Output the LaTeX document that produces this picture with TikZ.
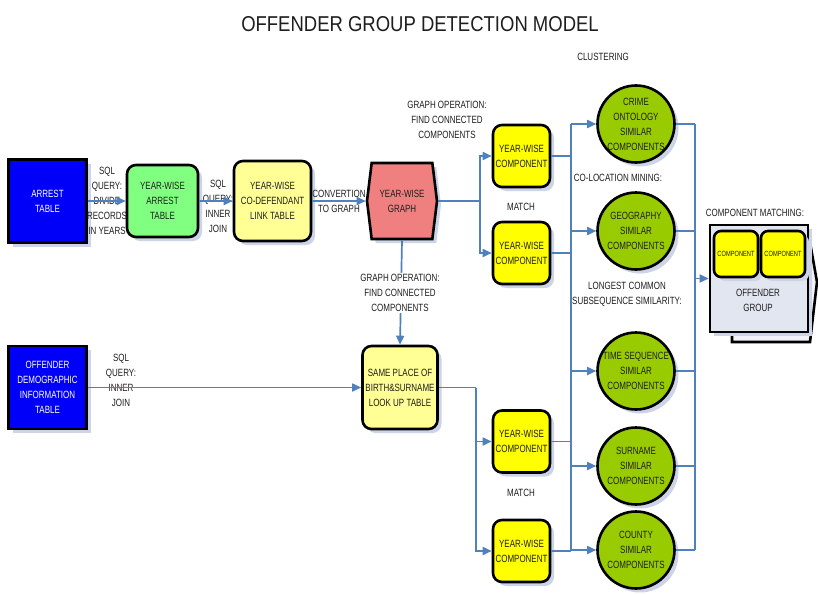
\documentclass[tikz,border=0pt]{standalone}
\usepackage{fontspec}
\setmainfont{Liberation Sans}[FakeStretch=0.76]
\newfontfamily\ttlfont{Liberation Sans}[FakeStretch=0.86]
\usetikzlibrary{shapes.symbols,shadows,arrows.meta}
\definecolor{txtc}{RGB}{30,30,30}
\definecolor{bluebox}{RGB}{0,0,250}
\definecolor{greenbox}{RGB}{128,255,128}
\definecolor{lyellow}{RGB}{255,255,150}
\definecolor{yellowc}{RGB}{255,255,0}
\definecolor{salmonc}{RGB}{240,128,128}
\definecolor{circg}{RGB}{153,204,0}
\definecolor{grpc}{RGB}{226,230,240}
\definecolor{grpback}{RGB}{240,242,248}
\definecolor{shadowc}{RGB}{205,212,232}
\definecolor{arrowc}{RGB}{79,129,189}
\newcommand\dfont{\fontsize{10.5}{15}\selectfont}
\newcommand\sfont{\fontsize{7.5}{9}\selectfont}
\tikzset{
  shd/.style={drop shadow={shadow xshift=4pt, shadow yshift=-4pt, fill=shadowc, opacity=1}},
  box/.style={draw=black, line width=2.6pt, align=center, inner sep=1pt, font=\dfont, text=txtc, shd},
  rbox/.style={box, rounded corners=9pt},
  bluetab/.style={box, fill=bluebox, text=white, minimum width=78pt, minimum height=83pt},
  comp/.style={rbox, fill=yellowc, minimum width=57pt, minimum height=62pt},
  circ/.style={box, circle, fill=circg, minimum size=77pt, inner sep=-8pt},
  lbl/.style={align=center, font=\dfont, text=txtc, inner sep=1pt},
  conn/.style={draw=arrowc, line width=1.7pt},
  arr/.style={conn, -{Triangle[length=9pt,width=8pt]}}
}
\begin{document}
\begin{tikzpicture}[x=1pt,y=-1pt]
\fill[white] (0,0) rectangle (818,594);
\useasboundingbox (0,0) rectangle (818,594);

\node[font=\ttlfont\fontsize{21.5}{24}\selectfont, text=txtc] (title) at (420,24) {OFFENDER GROUP DETECTION MODEL};

% top row
\node[bluetab] (arrest) at (47.5,201) {ARREST\\TABLE};
\node[rbox, fill=greenbox, minimum width=71pt, minimum height=72pt] (yarrest) at (162.5,201) {YEAR-WISE\\ARREST\\TABLE};
\node[rbox, fill=lyellow, minimum width=77pt, minimum height=80pt] (codef) at (272.5,201) {YEAR-WISE\\CO-DEFENDANT\\LINK TABLE};
\node[box, fill=salmonc, signal, signal to=west and east, signal pointer angle=166, minimum width=70pt, minimum height=76pt] (graph) at (402,201) {YEAR-WISE\\GRAPH};

\node[lbl] (q1) at (107,201) {SQL\\QUERY:\\DIVIDE\\RECORDS\\IN YEARS};
\node[lbl] (q2) at (218,206) {SQL\\QUERY:\\INNER\\JOIN};
\node[lbl] (conv) at (339,201) {CONVERTION\\TO GRAPH};
\node[lbl] (gop1) at (447,120) {GRAPH OPERATION:\\FIND CONNECTED\\COMPONENTS};

% bottom row
\node[bluetab] (demog) at (47.5,387.5) {OFFENDER\\DEMOGRAPHIC\\INFORMATION\\TABLE};
\node[rbox, fill=lyellow, minimum width=75pt, minimum height=83pt] (lookup) at (400,387.5) {SAME PLACE OF\\BIRTH\&SURNAME\\LOOK UP TABLE};
\node[lbl] (q3) at (121,380) {SQL\\QUERY:\\INNER\\JOIN};

% components
\node[comp] (comp1) at (521.5,156) {YEAR-WISE\\COMPONENT};
\node[comp] (comp2) at (521.5,253) {YEAR-WISE\\COMPONENT};
\node[comp] (comp3) at (521.5,441.5) {YEAR-WISE\\COMPONENT};
\node[comp] (comp4) at (521.5,551) {YEAR-WISE\\COMPONENT};
\node[lbl] (match1) at (521,207) {MATCH};
\node[lbl] (match2) at (521,493) {MATCH};

% circles
\node[circ] (crime) at (636,124) {CRIME\\ONTOLOGY\\SIMILAR\\COMPONENTS};
\node[circ] (geo) at (636,231) {GEOGRAPHY\\SIMILAR\\COMPONENTS};
\node[circ] (time) at (636,371) {TIME SEQUENCE\\SIMILAR\\COMPONENTS};
\node[circ] (surn) at (636,466) {SURNAME\\SIMILAR\\COMPONENTS};
\node[circ] (county) at (636,550) {COUNTY\\SIMILAR\\COMPONENTS};
\node[lbl] (clust) at (603,57) {CLUSTERING};
\node[lbl] (coloc) at (618,178) {CO-LOCATION MINING:};
\node[lbl] (lcs) at (627,294.5) {LONGEST COMMON\\SUBSEQUENCE SIMILARITY:};

% offender group
\node[lbl] (cmatch) at (755,213) {COMPONENT MATCHING:};
\filldraw[fill=grpback, draw=black, line width=2.6pt, line join=miter] (732,231) -- (808,231) -- (817,282) -- (810,342) -- (732,342) -- cycle;
\node[box, fill=grpc, minimum width=98pt, minimum height=107pt] (grp) at (759,278.5) {};
\node[rbox, rounded corners=7pt, fill=yellowc, font=\sfont, minimum width=44pt, minimum height=46pt, inner sep=0pt] (ic1) at (736,254) {COMPONENT};
\node[rbox, rounded corners=7pt, fill=yellowc, font=\sfont, minimum width=44pt, minimum height=46pt, inner sep=0pt] (ic2) at (783,254) {COMPONENT};
\node[lbl] (grplbl) at (758,300.5) {OFFENDER\\GROUP};

% connectors
\draw[arr] (arrest.east) -- (yarrest.west);
\draw[arr] (yarrest.east) -- (codef.west);
\draw[arr] (codef.east) -- (graph.west);
\coordinate (sp1) at (480,201);
\draw[conn] (graph.east) -- (sp1);
\draw[arr] (sp1) |- (comp1.west);
\draw[arr] (sp1) |- (comp2.west);
\draw[arr] (demog.east) -- (lookup.west);
\coordinate (sp2) at (476,387.5);
\draw[conn] (lookup.east) -- (sp2);
\draw[arr] (sp2) |- (comp3.west);
\draw[arr] (sp2) |- (comp4.west);
\draw[arr] (graph.south) -- (lookup.north);
\node[lbl, fill=white] (gop2) at (400,293) {GRAPH OPERATION:\\FIND CONNECTED\\COMPONENTS};

\coordinate (lt) at (571,124);
\coordinate (lb) at (571,551);
\draw[conn] (lt) -- (lb);
\foreach \c in {comp1,comp2,comp3,comp4} \draw[conn] (\c.east) -- (\c.east -| lt);
\foreach \c in {crime,geo,time,surn,county} \draw[arr] (\c.west -| lt) -- (\c.west);
\coordinate (rt) at (695,124);
\coordinate (rb) at (695,550);
\draw[conn] (rt) -- (rb);
\foreach \c in {crime,geo,time,surn,county} \draw[conn] (\c.east) -- (\c.east -| rt);
\draw[arr] (rt |- grp.west) -- (grp.west);
\end{tikzpicture}
\end{document}
